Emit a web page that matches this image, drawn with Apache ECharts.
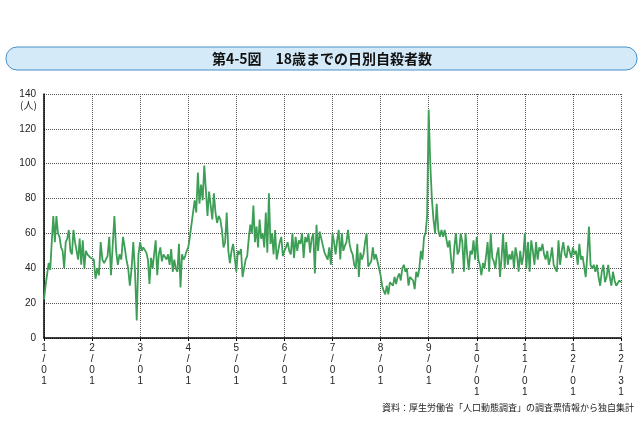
<!DOCTYPE html>
<html><head><meta charset="utf-8">
<script src="https://cdn.jsdelivr.net/npm/echarts@6/dist/echarts.min.js"></script>
<style>html,body{margin:0;padding:0;background:#fff}#c{width:644px;height:425px}</style>
</head><body><div id="c"></div>
<script>
const title = '第4-5図　18歳までの日別自殺者数';
const source = '資料：厚生労働省「人口動態調査」の調査票情報から独自集計';
const yTicks = [0,20,40,60,80,100,120,140];
const xTickLabels = ['1/01','2/01','3/01','4/01','5/01','6/01','7/01','8/01','9/01','10/01','11/01','12/01','12/31'];
const jan = [22,30,30,43,39,55,70,55,70,60,58,52,50,40,55,57,62,50,48,62,55,50,45,57,42,56,40,50,48,48,46];
const feb = [47,45,34,40,36,55,45,43,45,47,58,36,37,70,50,42,48,45,58,52,45,40,30,40,55,38,10,48];
const mar = [55,50,52,51,49,45,31,46,40,48,56,36,48,52,44,48,47,45,48,42,51,38,45,40,38,54,29,48,45,47,50];
const apr = [52,58,65,64,79,72,95,77,88,79,99,85,70,84,85,68,83,72,66,70,68,62,52,55,72,50,43,50,54,46];
const may = [38,50,48,51,35,40,45,47,57,65,60,76,55,64,52,68,57,60,52,72,49,83,54,60,48,62,45,44,55,58,47];
const jun = [50,52,55,50,48,60,46,58,50,56,54,60,46,58,55,60,49,57,60,37,65,50,61,57,56,49,50,45,52,42];
const jul = [60,55,48,56,62,45,60,50,53,55,62,54,50,48,42,40,54,35,49,45,48,55,60,41,42,44,52,45,48,44,44];
const aug = [36,30,27,25,30,25,32,33,30,35,31,35,37,33,40,42,38,40,30,35,36,33,28,38,35,40,50,45,58,60,70];
const sep = [131,100,80,68,60,77,62,58,62,58,62,62,52,56,45,37,52,60,48,50,60,55,38,60,48,39,50,48,56,45];
const oct = [58,45,42,36,43,40,47,55,38,60,46,44,40,48,52,35,46,60,40,55,42,48,45,50,40,52,47,38,50,42,47];
const nov = [60,40,55,38,56,50,42,55,45,52,50,54,48,45,50,42,46,52,42,40,38,56,42,50,55,48,46,53,54,46];
const dec = [52,48,50,42,54,45,47,48,35,48,64,42,40,42,38,42,35,30,38,42,32,35,42,35,30,38,33,30,29,33,32];
const months = [jan,feb,mar,apr,may,jun,jul,aug,sep,oct,nov,dec];
const data = [];
months.forEach((arr,m)=>{
  const len = arr.length;
  arr.forEach((v,d)=>{
    const x = (m===11) ? m + d/(len-1) : m + d/len;
    data.push([x,v]);
  });
});
const chart = echarts.init(document.getElementById('c'));
chart.setOption({
  animation:false,
  grid:{left:44,right:23,top:94,bottom:87},
  graphic:[
    {type:'rect',shape:{x:6,y:47,width:631,height:23,r:11},style:{fill:'#d4eaf8',stroke:'#4a90c8',lineWidth:1}},
    {type:'text',x:322,y:59,style:{text:title,fill:'#111',font:'bold 14px "Noto Sans CJK JP"',align:'center',verticalAlign:'middle'}},
    {type:'text',x:20,y:100,style:{text:'(人)',fill:'#222',font:'10px "Noto Sans CJK JP"'}},
    {type:'text',x:634,y:408,style:{text:source,fill:'#222',font:'9px "Noto Sans CJK JP"',align:'right',verticalAlign:'middle'}}
  ],
  xAxis:{type:'value',min:0,max:12,interval:1,
    axisLine:{show:true,onZero:false,lineStyle:{color:'#000',width:1.5}},
    axisTick:{show:true,length:3,lineStyle:{color:'#000'}},
    splitLine:{show:true,lineStyle:{color:'#555',type:[1,1],width:1}},
    axisLabel:{color:'#222',fontSize:10,lineHeight:11,margin:5,
      formatter:v=>{const i=Math.round(v);return (xTickLabels[i]||'').split('').join('\n');}}},
  yAxis:{type:'value',min:0,max:140,interval:20,
    axisLine:{show:true,lineStyle:{color:'#000',width:1.5}},
    axisTick:{show:false},
    splitLine:{show:true,lineStyle:{color:'#555',type:[1,1],width:1}},
    axisLabel:{color:'#222',fontSize:10,margin:8,formatter:v=>yTicks.includes(v)?String(v):''}},
  series:[{type:'line',data:data,showSymbol:false,symbol:'none',
    lineStyle:{color:'#3d9e55',width:1.8},z:3}]
});
</script></body></html>
